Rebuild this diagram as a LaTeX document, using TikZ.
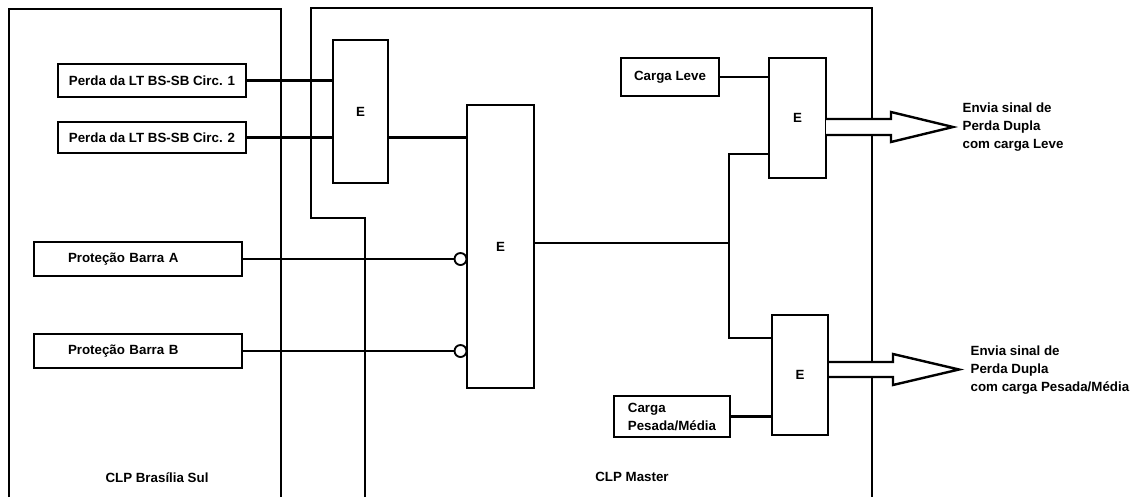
\documentclass[tikz,border=0pt]{standalone}
\usepackage{fontspec}
\setmainfont{Liberation Sans}
\usepackage{tikz}

\begin{document}
\begin{tikzpicture}[x=0.75pt,y=-0.75pt,line width=1.8pt,every node/.style={font=\bfseries\fontsize{10}{13.5}\selectfont},
  inbox/.style 2 args={draw,rectangle,inner sep=0pt,minimum width=#1*0.75pt,minimum height=#2*0.75pt,align=left},
  gate/.style 2 args={draw,rectangle,inner sep=0pt,minimum width=#1*0.75pt,minimum height=#2*0.75pt},
  inv/.style={draw,circle,line width=1.4pt,fill=white,inner sep=0pt,minimum size=9pt},
  seta/.style={draw,fill=white,line join=miter}]
\useasboundingbox (0,0) rectangle (1140,497);
% quadros dos CLPs
\draw (9,497) -- (9,9) -- (281,9) -- (281,497);
\draw (365,497) -- (365,218) -- (311,218) -- (311,8) -- (872,8) -- (872,497);
\node at (157,478) (lblsul) {CLP Brasília Sul};
\node at (632,477) (lblmst) {CLP Master};
% entradas
\node[inbox={188}{33}] at (152,80.5) (p1) {Perda da LT BS-SB Circ. 1};
\node[inbox={188}{31}] at (152,137.5) (p2) {Perda da LT BS-SB Circ. 2};
\node[inbox={208}{34},text width=105pt] at (138,259) (pa) {Proteção Barra A};
\node[inbox={208}{34},text width=105pt] at (138,351) (pb) {Proteção Barra B};
\node[inbox={98}{38}] at (670,77) (cl) {Carga Leve};
\node[inbox={116}{41}] at (672,416.5) (cp) {Carga\\Pesada/Média};
% portas E
\node[gate={55}{143}] at (360.5,111.5) (e1) {E};
\node[gate={67}{283}] at (500.5,246.5) (e2) {E};
\node[gate={57}{120}] at (797.5,118) (e3) {E};
\node[gate={56}{120}] at (800,375) (e4) {E};
\node[inv] at (460.5,259) (na) {};
\node[inv] at (460.5,351) (nb) {};
% ligacoes
\draw (p1.east) -- (p1.east -| e1.west);
\draw (p2.east) -- (p2.east -| e1.west);
\draw (e1.east |- p2.east) -- (e2.west |- p2.east);
\draw (pa.east) -- (na.west);
\draw (pb.east) -- (nb.west);
\coordinate (j) at (729,243);
\coordinate (j3) at (729,154);
\coordinate (j4) at (729,338);
\draw (e2.east |- j) -- (j);
\draw (e3.west |- j3) -- (j3) -- (j4) -- (e4.west |- j4);
\draw (cl.east) -- (cl.east -| e3.west);
\draw (cp.east) -- (cp.east -| e4.west);
% saidas
\coordinate (a1) at (826,126.5);
\coordinate (a2) at (829,369.5);
\draw[seta] (a1) ++(0,-7.5) -- ++(65,0) -- ++(0,-7) -- ++(62,15) -- ++(-62,15) -- ++(0,-7) -- ++(-65,0);
\draw[seta] (a2) ++(0,-7.5) -- ++(64,0) -- ++(0,-8) -- ++(66,15.5) -- ++(-66,15.5) -- ++(0,-8) -- ++(-64,0);
\node[anchor=west,align=left] at (957,127) (out1) {Envia sinal de\\Perda Dupla\\com carga Leve};
\node[anchor=west,align=left] at (965,370) (out2) {Envia sinal de\\Perda Dupla\\com carga Pesada/Média};
\end{tikzpicture}
\end{document}
